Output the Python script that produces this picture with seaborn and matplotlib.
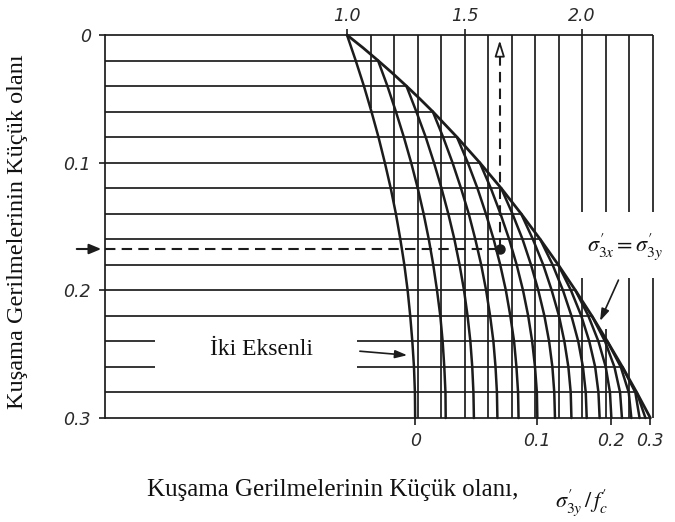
import numpy as np
import pandas as pd
import matplotlib
matplotlib.use("Agg")
import matplotlib.pyplot as plt
import seaborn as sns

# Larger confining stress sigma'_3x / f'c (rows of the chart)
sigma_rows = [0.00, 0.02, 0.04, 0.06, 0.08, 0.10, 0.12, 0.14,
              0.16, 0.18, 0.20, 0.22, 0.24, 0.26, 0.28, 0.30]

# f'cc / f'c along each line of constant sigma'_3y / f'c,
# listed from sigma'_3x = sigma'_3y down to sigma'_3x = 0.30
f_s00 = [1.000, 1.037, 1.072, 1.104, 1.134, 1.161, 1.186, 1.208,
         1.227, 1.244, 1.258, 1.269, 1.278, 1.285, 1.289, 1.290]
f_s02 = [1.132, 1.172, 1.208, 1.242, 1.273, 1.301, 1.326, 1.348,
         1.367, 1.383, 1.397, 1.407, 1.414, 1.419, 1.420]
f_s04 = [1.253, 1.295, 1.335, 1.370, 1.402, 1.431, 1.457, 1.479,
         1.498, 1.513, 1.525, 1.533, 1.538, 1.540]
f_s06 = [1.365, 1.409, 1.449, 1.485, 1.518, 1.546, 1.571, 1.592,
         1.609, 1.623, 1.632, 1.638, 1.640]
f_s08 = [1.468, 1.514, 1.555, 1.591, 1.624, 1.652, 1.676, 1.695,
         1.711, 1.721, 1.728, 1.730]
f_s10 = [1.565, 1.612, 1.653, 1.690, 1.722, 1.749, 1.771, 1.788,
         1.800, 1.808, 1.810]
f_s12 = [1.656, 1.704, 1.747, 1.783, 1.814, 1.840, 1.860, 1.874,
         1.882, 1.885]
f_s14 = [1.741, 1.791, 1.835, 1.871, 1.902, 1.925, 1.942, 1.952, 1.955]
f_s16 = [1.822, 1.875, 1.919, 1.955, 1.984, 2.004, 2.016, 2.020]
f_s18 = [1.899, 1.953, 1.997, 2.031, 2.056, 2.070, 2.075]
f_s20 = [1.972, 2.027, 2.070, 2.101, 2.119, 2.125]
f_s22 = [2.042, 2.098, 2.138, 2.162, 2.170]
f_s24 = [2.108, 2.165, 2.199, 2.210]
f_s26 = [2.172, 2.227, 2.245]
f_s28 = [2.233, 2.270]

# Equal triaxial confinement boundary (sigma'_3x = sigma'_3y)
env_sigma = [0.000, 0.005, 0.010, 0.015, 0.020, 0.030, 0.040, 0.050, 0.060,
             0.080, 0.100, 0.120, 0.140, 0.160, 0.180, 0.200, 0.220, 0.240,
             0.260, 0.280, 0.300]
env_f = [1.000, 1.034, 1.068, 1.100, 1.132, 1.194, 1.253, 1.310, 1.365,
         1.468, 1.565, 1.656, 1.741, 1.822, 1.899, 1.972, 2.042, 2.108,
         2.172, 2.233, 2.291]

# Grid of strength ratios
vline_f = [1.1, 1.2, 1.3, 1.4, 1.5, 1.6, 1.7, 1.8, 1.9, 2.0, 2.1, 2.2, 2.3]

# Axis labels
top_ticks = [1.0, 1.5, 2.0]
top_labels = ["1.0", "1.5", "2.0"]
left_ticks = [0.0, 0.1, 0.2, 0.3]
left_labels = ["0", "0.1", "0.2", "0.3"]
bottom_labels = ["0", "0.1", "0.2", "0.3"]

# Worked example
example_f = 1.65
example_sigma = 0.168

curves = [f_s00, f_s02, f_s04, f_s06, f_s08, f_s10, f_s12, f_s14,
          f_s16, f_s18, f_s20, f_s22, f_s24, f_s26, f_s28]

ink = "#1c1c1c"
sns.set_theme(style="white")
plt.rcParams["font.family"] = ["DejaVu Sans"]
plt.rcParams["mathtext.fontset"] = "stix"

W, H = 675, 522
fig = plt.figure(figsize=(W / 100, H / 100), dpi=100)
fig.patch.set_facecolor("white")
x0, x1 = -0.0298, 2.3
ax = fig.add_axes([105 / W, 1 - 418 / H, (652.5 - 105) / W, (418 - 35) / H])
ax.set_facecolor("white")

grid_lw = 1.25

# horizontal grid lines, ending on the boundary curve
for s in sigma_rows:
    xe = 2.3 if s == 0 else float(np.interp(s, env_sigma, env_f))
    if abs(s - 0.24) < 1e-9 or abs(s - 0.26) < 1e-9:
        segs = [(x0, 0.183), (1.043, xe)]
    else:
        segs = [(x0, xe)]
    for a, b in segs:
        ax.plot([a, b], [s, s], color=ink, lw=grid_lw, clip_on=False,
                solid_capstyle="butt")

# vertical grid lines, bounded on the left by the biaxial curve
for f in vline_f:
    y_end = 0.3 if f >= f_s00[-1] else float(np.interp(f, f_s00, sigma_rows))
    if f >= 1.95:
        lower = 0.23 if abs(f - 2.1) < 1e-9 else 0.190
        segs = [(0.0, 0.139), (lower, y_end)]
    else:
        segs = [(0.0, y_end)]
    for a, b in segs:
        ax.plot([f, f], [a, b], color=ink, lw=grid_lw, clip_on=False,
                solid_capstyle="butt")

# constant sigma'_3y lines
rows = []
for k, fv in enumerate(curves):
    for j, val in enumerate(fv):
        rows.append({"curve": k, "f": val, "sigma": sigma_rows[k + j]})
df = pd.DataFrame(rows)
sns.lineplot(data=df, x="f", y="sigma", hue="curve", estimator=None,
             sort=False, palette=[ink] * len(curves), legend=False,
             lw=1.8, ax=ax)
for line in ax.lines[-len(curves):]:
    line.set_clip_on(False)

env_df = pd.DataFrame({"f": env_f, "sigma": env_sigma})
sns.lineplot(data=env_df, x="f", y="sigma", estimator=None, sort=False,
             color=ink, lw=2.0, ax=ax)
ax.lines[-1].set_clip_on(False)

ax.set_xlim(x0, x1)
ax.set_ylim(0.3, 0.0)
ax.set_xlabel("")
ax.set_ylabel("")
for side in ["top", "right", "bottom"]:
    ax.spines[side].set_visible(False)
ax.spines["left"].set_color(ink)
ax.spines["left"].set_linewidth(grid_lw)

tick_font = dict(fontsize=12.5, fontstyle="italic", color="#2a2a2a")
bottom_ticks = [f_s00[-1], f_s10[-1], f_s20[-1], env_f[-1]]
ax.set_xticks(bottom_ticks)
ax.set_xticklabels(bottom_labels, **tick_font)
ax.set_yticks(left_ticks)
ax.set_yticklabels(left_labels, **tick_font)
ax.tick_params(axis="x", bottom=True, direction="out", length=5, width=1.2,
               color=ink, pad=5)
ax.tick_params(axis="y", left=True, direction="out", length=4, width=1.2,
               color=ink, pad=6)

top = ax.secondary_xaxis("top")
top.set_xticks(top_ticks)
top.set_xticklabels(top_labels, **tick_font)
top.tick_params(direction="out", length=4, width=1.2, color=ink, pad=3)
for sp in top.spines.values():
    sp.set_visible(False)

# worked example: dashed path and point
dash = (0, (5, 3))
ax.plot([x0, example_f], [example_sigma, example_sigma], color=ink, lw=1.5,
        ls=dash, clip_on=False)
ax.plot([example_f, example_f], [example_sigma, 0.016], color=ink, lw=1.5,
        ls=dash, clip_on=False)
ax.annotate("", xy=(example_f, 0.002), xytext=(example_f, 0.016),
            arrowprops=dict(arrowstyle="-|>,head_length=0.8,head_width=0.25",
                            color=ink, fc="white", lw=1.3),
            annotation_clip=False)
ax.plot([example_f], [example_sigma], "o", ms=6.5, color=ink, clip_on=False)
ax.annotate("", xy=(104, H - 249), xycoords="figure pixels",
            xytext=(74, H - 249), textcoords="figure pixels",
            arrowprops=dict(arrowstyle="-|>,head_length=0.6,head_width=0.25",
                            color=ink, lw=1.5))

# biaxial label and pointer
ax.text(0.638, 0.2467, "İki Eksenli", ha="center", va="center",
        family="Liberation Serif", fontsize=17, color="#111111")
ax.annotate("", xy=(1.268, 0.251), xytext=(1.043, 0.2475),
            arrowprops=dict(arrowstyle="-|>,head_length=0.6,head_width=0.2",
                            color=ink, lw=1.2),
            annotation_clip=False)

# equal confinement label and pointer
fig.text(587 / W, 1 - 247 / H, r"$\sigma^{\prime}_{3x} = \sigma^{\prime}_{3y}$",
         ha="left", va="center", fontsize=16, color="#111111")
ax.annotate("", xy=(2.072, 0.226), xytext=(2.16, 0.190),
            arrowprops=dict(arrowstyle="-|>,head_length=0.6,head_width=0.2",
                            color=ink, lw=1.2),
            annotation_clip=False)

# axis titles
fig.text(333 / W, 1 - 490 / H, "Kuşama Gerilmelerinin Küçük olanı,",
         ha="center", va="center", family="Liberation Serif", fontsize=18,
         color="#111111")
fig.text(582 / W, 1 - 503 / H, r"$\sigma^{\prime}_{3y}\,/\,f^{\prime}_{c}$",
         ha="center", va="center", fontsize=16, color="#111111")
fig.text(18 / W, 1 - 232 / H, "Kuşama Gerilmelerinin Küçük olanı",
         ha="center", va="center", rotation=90, family="Liberation Serif",
         fontsize=17.5, color="#111111")

fig.savefig("out.png", dpi=100, facecolor="white")
